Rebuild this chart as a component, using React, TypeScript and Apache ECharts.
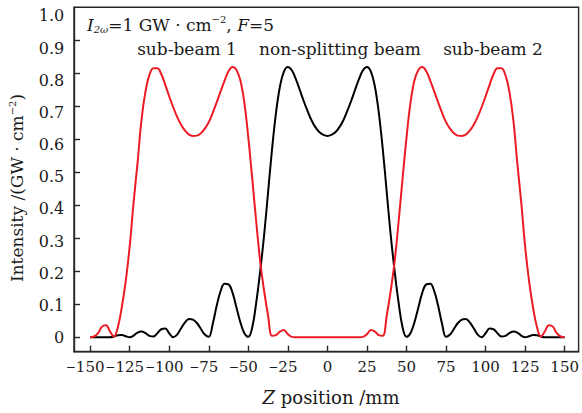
import React, { useEffect, useRef } from "react";
import * as echarts from "echarts";

// Z position (mm) of each sample
const zPositions = [
  -150, -147.5, -145, -142.5, -140, -137.5, -135, -132.5, -130, -127.5,
  -125, -122.5, -120, -117.5, -115, -112.5, -110, -107.5, -105, -102.5,
  -100, -97.5, -95, -92.5, -90, -87.5, -85, -82.5, -80, -77.5,
  -75, -72.5, -70, -67.5, -65, -62.5, -60, -57.5, -55, -52.5,
  -50, -47.5, -45, -42.5, -40, -37.5, -35, -32.5, -30, -27.5,
  -25, -22.5, -20, -17.5, -15, -12.5, -10, -7.5, -5, -2.5,
  0,
  2.5, 5, 7.5, 10, 12.5, 15, 17.5, 20, 22.5, 25,
  27.5, 30, 32.5, 35, 37.5, 40, 42.5, 45, 47.5, 50,
  52.5, 55, 57.5, 60, 62.5, 65, 67.5, 70, 72.5, 75,
  77.5, 80, 82.5, 85, 87.5, 90, 92.5, 95, 97.5, 100,
  102.5, 105, 107.5, 110, 112.5, 115, 117.5, 120, 122.5, 125,
  127.5, 130, 132.5, 135, 137.5, 140, 142.5, 145, 147.5, 150,
];

// non-splitting beam intensity (GW/cm^2)
const nonSplittingBeam = [
  0, 0, 0, 0, 0, 0, 0.002, 0.006, 0.007, 0.003,
  0.000, 0.005, 0.014, 0.017, 0.012, 0.004, 0.002, 0.012, 0.024, 0.026,
  0.012, 0.000, 0.008, 0.027, 0.045, 0.055, 0.053, 0.043, 0.025, 0.008,
  0.001, 0.040, 0.095, 0.140, 0.162, 0.160, 0.135, 0.090, 0.045, 0.012,
  0.001, 0.030, 0.105, 0.200, 0.310, 0.440, 0.570, 0.680, 0.760, 0.805,
  0.819, 0.809, 0.783, 0.750, 0.716, 0.685, 0.657, 0.636, 0.621, 0.613,
  0.610,
  0.613, 0.621, 0.636, 0.657, 0.685, 0.716, 0.750, 0.783, 0.809, 0.819,
  0.805, 0.760, 0.680, 0.570, 0.440, 0.310, 0.200, 0.105, 0.030, 0.001,
  0.012, 0.045, 0.090, 0.135, 0.160, 0.162, 0.140, 0.095, 0.040, 0.001,
  0.008, 0.025, 0.043, 0.053, 0.055, 0.045, 0.027, 0.008, 0.000, 0.012,
  0.026, 0.024, 0.012, 0.002, 0.004, 0.012, 0.017, 0.014, 0.005, 0.000,
  0.003, 0.007, 0.006, 0.002, 0, 0, 0, 0, 0, 0,
];

// sub-beam 1 and sub-beam 2 intensity (GW/cm^2)
const subBeams = [
  0.000, 0.002, 0.012, 0.032, 0.036, 0.018, 0.002, 0.030, 0.090, 0.170,
  0.275, 0.410, 0.530, 0.660, 0.745, 0.795, 0.815, 0.815, 0.797, 0.765,
  0.730, 0.697, 0.668, 0.644, 0.626, 0.614, 0.610, 0.611, 0.618, 0.632,
  0.652, 0.680, 0.712, 0.745, 0.778, 0.806, 0.819, 0.810, 0.778, 0.710,
  0.605, 0.480, 0.350, 0.230, 0.140, 0.065, 0.004, 0.006, 0.017, 0.022,
  0.009, 0.001, 0, 0, 0, 0, 0, 0, 0, 0,
  0,
  0, 0, 0, 0, 0, 0, 0, 0, 0.001, 0.009,
  0.022, 0.017, 0.006, 0.004, 0.065, 0.140, 0.230, 0.350, 0.480, 0.605,
  0.710, 0.778, 0.810, 0.819, 0.806, 0.778, 0.745, 0.712, 0.680, 0.652,
  0.632, 0.618, 0.611, 0.610, 0.614, 0.626, 0.644, 0.668, 0.697, 0.730,
  0.765, 0.797, 0.815, 0.815, 0.795, 0.745, 0.660, 0.530, 0.410, 0.275,
  0.170, 0.090, 0.030, 0.002, 0.018, 0.036, 0.032, 0.012, 0.002, 0.000,
];

const xTickValues = [-150, -125, -100, -75, -50, -25, 0, 25, 50, 75, 100, 125, 150];
const yTickValues = [0, 0.1, 0.2, 0.3, 0.4, 0.5, 0.6, 0.7, 0.8, 0.9];
const yLabelValues = [0, 0.1, 0.2, 0.3, 0.4, 0.5, 0.6, 0.7, 0.8, 0.9, 1.0];
const beamLabels = ["sub-beam 1", "non-splitting beam", "sub-beam 2"];

const SERIF = "'DejaVu Serif', serif";
const TEXT = "#1a1a1a";
const AXIS = "#262626";

const GRID_LEFT = 74;
const GRID_RIGHT = 2.7;
const CHART_W = 582;

export default function App() {
  const ref = useRef<HTMLDivElement>(null);
  useEffect(() => {
    if (!ref.current) return;
    const chart = echarts.init(ref.current, undefined, { renderer: "svg" });
    const axisLine = { color: AXIS, width: 1.4 };
    const xLabelBase = { fontFamily: SERIF, fontSize: 15, color: TEXT };
    const yLabelBase = { fontFamily: SERIF, fontSize: 16, color: TEXT };
    const option: any = {
      animation: false,
      grid: {
        left: GRID_LEFT, right: GRID_RIGHT, top: 7.3, bottom: 61.3,
        show: true, borderColor: AXIS, borderWidth: 1.4,
        backgroundColor: "transparent",
      },
      xAxis: {
        type: "value", min: -160.2, max: 158.8,
        axisLine: { show: true, onZero: false, lineStyle: axisLine },
        axisTick: { show: true, inside: true, length: 6, customValues: xTickValues, lineStyle: axisLine },
        axisLabel: {
          ...xLabelBase, margin: 8, customValues: xTickValues,
          showMinLabel: true, showMaxLabel: true, hideOverlap: false,
          formatter: (v: number) => (v < 0 ? `{m|\u2212}{d|${-v}}` : `${v}`),
          rich: {
            m: { fontFamily: SERIF, fontSize: 12, color: TEXT, padding: [0, 0, 0, -5] },
            d: { ...xLabelBase, padding: [0, 5, 0, 0] },
          },
        },
        splitLine: { show: false },
      },
      yAxis: [
        {
          // intensity axis carrying the curves and the ticks
          type: "value", min: -0.044, max: 1.0, position: "left",
          axisLine: { show: true, onZero: false, lineStyle: axisLine },
          axisTick: { show: true, inside: true, length: 6, customValues: yTickValues, lineStyle: axisLine },
          axisLabel: { show: false },
          splitLine: { show: false },
        },
        {
          // label scale of the original figure (labels are spaced slightly tighter than the ticks)
          type: "value", min: -0.0442, max: 1.027, position: "right",
          offset: -(CHART_W - GRID_LEFT - GRID_RIGHT),
          axisLine: { show: false },
          axisTick: { show: false },
          axisLabel: {
            ...yLabelBase, inside: true, margin: 9, customValues: yLabelValues,
            showMinLabel: true, showMaxLabel: true, hideOverlap: false,
            formatter: (v: number) => (v === 0 ? "0" : v.toFixed(1)),
          },
          splitLine: { show: false },
        },
      ],
      series: [
        {
          name: "non-splitting beam", type: "line", yAxisIndex: 0,
          data: zPositions.map((z, i) => [z, nonSplittingBeam[i]]),
          showSymbol: false, smooth: 0.4,
          lineStyle: { color: "#000", width: 2 },
        },
        {
          name: "sub-beams", type: "line", yAxisIndex: 0,
          data: zPositions.map((z, i) => [z, subBeams[i]]),
          showSymbol: false, smooth: 0.4,
          lineStyle: { color: "#ec1c24", width: 2 },
        },
      ],
      graphic: [
        {
          type: "text", x: 87, y: 24.5,
          style: {
            text: "{i|I}{sub|2\u03c9}{n|=1 GW \u00b7 cm}{sup|\u22122}{n|, }{i|F}{n|=5}",
            align: "left", verticalAlign: "middle",
            rich: {
              n: { fontFamily: SERIF, fontSize: 17, fill: TEXT, lineHeight: 20 },
              i: { fontFamily: SERIF, fontSize: 17, fontStyle: "italic", fill: TEXT, lineHeight: 20 },
              sub: { fontFamily: SERIF, fontSize: 10, fontStyle: "italic", fill: TEXT, lineHeight: 10, verticalAlign: "bottom" },
              sup: { fontFamily: SERIF, fontSize: 10, fill: TEXT, lineHeight: 10, verticalAlign: "top" },
            },
          },
        },
        {
          type: "text", x: 187, y: 48.5,
          style: { text: beamLabels[0], fontFamily: SERIF, fontSize: 17, fill: TEXT, align: "center", verticalAlign: "middle" },
        },
        {
          type: "text", x: 340, y: 48.5,
          style: { text: beamLabels[1], fontFamily: SERIF, fontSize: 17, fill: TEXT, align: "center", verticalAlign: "middle" },
        },
        {
          type: "text", x: 493, y: 48.5,
          style: { text: beamLabels[2], fontFamily: SERIF, fontSize: 17, fill: TEXT, align: "center", verticalAlign: "middle" },
        },
        {
          type: "text", x: 331, y: 397,
          style: {
            text: "{i|Z}{n| position /mm}",
            align: "center", verticalAlign: "middle",
            rich: {
              n: { fontFamily: SERIF, fontSize: 18, fill: TEXT },
              i: { fontFamily: SERIF, fontSize: 18, fontStyle: "italic", fill: TEXT },
            },
          },
        },
        {
          type: "text", x: 17, y: 188, rotation: Math.PI / 2,
          style: {
            text: "{n|Intensity /(GW \u00b7 cm}{sup|\u22122}{n|)}",
            align: "center", verticalAlign: "middle",
            rich: {
              n: { fontFamily: SERIF, fontSize: 17, fill: TEXT, lineHeight: 20 },
              sup: { fontFamily: SERIF, fontSize: 10, fill: TEXT, lineHeight: 10, verticalAlign: "top" },
            },
          },
        },
      ],
    };
    chart.setOption(option);
    return () => chart.dispose();
  }, []);
  return (
    <div
      ref={ref}
      style={{ position: "absolute", left: 0, top: 0, width: 582, height: 413, background: "#fff" }}
    />
  );
}
